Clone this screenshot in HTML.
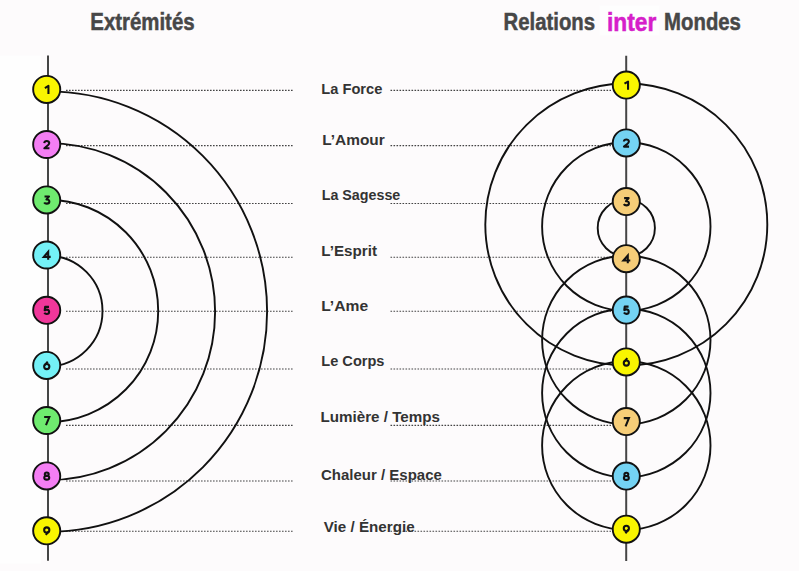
<!DOCTYPE html>
<html><head><meta charset="utf-8"><style>
html,body{margin:0;padding:0;background:#fdfbfc;}
body{width:799px;height:571px;overflow:hidden;position:relative;}
svg{position:absolute;left:0;top:0;display:block;}
.t{font-family:"Liberation Sans",sans-serif;font-weight:bold;}
</style></head><body>
<svg width="799" height="571" viewBox="0 0 799 571">
<rect x="0" y="0" width="799" height="571" fill="#fdfbfc"/>
<rect x="599.5" y="5.5" width="60" height="30" fill="#fefefe"/>
<rect x="0" y="55.7" width="41" height="507.9" fill="#fefefe"/>
<line x1="66" y1="90.4" x2="293" y2="90.4" stroke="#444" stroke-width="1.1" stroke-dasharray="1.6 1.4"/>
<line x1="390.5" y1="90.4" x2="611" y2="90.4" stroke="#444" stroke-width="1.1" stroke-dasharray="1.6 1.4"/>
<line x1="66" y1="145.6" x2="293" y2="145.6" stroke="#444" stroke-width="1.1" stroke-dasharray="1.6 1.4"/>
<line x1="390.5" y1="145.6" x2="611" y2="145.6" stroke="#444" stroke-width="1.1" stroke-dasharray="1.6 1.4"/>
<line x1="66" y1="203.5" x2="293" y2="203.5" stroke="#444" stroke-width="1.1" stroke-dasharray="1.6 1.4"/>
<line x1="390.5" y1="203.5" x2="611" y2="203.5" stroke="#444" stroke-width="1.1" stroke-dasharray="1.6 1.4"/>
<line x1="66" y1="257.3" x2="293" y2="257.3" stroke="#444" stroke-width="1.1" stroke-dasharray="1.6 1.4"/>
<line x1="390.5" y1="257.3" x2="611" y2="257.3" stroke="#444" stroke-width="1.1" stroke-dasharray="1.6 1.4"/>
<line x1="66" y1="311.3" x2="293" y2="311.3" stroke="#444" stroke-width="1.1" stroke-dasharray="1.6 1.4"/>
<line x1="390.5" y1="311.3" x2="611" y2="311.3" stroke="#444" stroke-width="1.1" stroke-dasharray="1.6 1.4"/>
<line x1="66" y1="369.0" x2="293" y2="369.0" stroke="#444" stroke-width="1.1" stroke-dasharray="1.6 1.4"/>
<line x1="390.5" y1="369.0" x2="611" y2="369.0" stroke="#444" stroke-width="1.1" stroke-dasharray="1.6 1.4"/>
<line x1="66" y1="425.4" x2="293" y2="425.4" stroke="#444" stroke-width="1.1" stroke-dasharray="1.6 1.4"/>
<line x1="390.5" y1="425.4" x2="611" y2="425.4" stroke="#444" stroke-width="1.1" stroke-dasharray="1.6 1.4"/>
<line x1="66" y1="481.0" x2="293" y2="481.0" stroke="#444" stroke-width="1.1" stroke-dasharray="1.6 1.4"/>
<line x1="390.5" y1="481.0" x2="611" y2="481.0" stroke="#444" stroke-width="1.1" stroke-dasharray="1.6 1.4"/>
<line x1="66" y1="531.2" x2="293" y2="531.2" stroke="#444" stroke-width="1.1" stroke-dasharray="1.6 1.4"/>
<line x1="390.5" y1="531.2" x2="611" y2="531.2" stroke="#444" stroke-width="1.1" stroke-dasharray="1.6 1.4"/>
<line x1="48" y1="55.6" x2="48" y2="560.8" stroke="#454545" stroke-width="2"/>
<line x1="626.2" y1="55.8" x2="626.2" y2="560.9" stroke="#454545" stroke-width="2"/>
<path d="M 47.5 91.40 A 219.6 220.2 0 0 1 47.5 531.80" fill="none" stroke="#111" stroke-width="1.9"/>
<path d="M 47.5 143.15 A 167.6 168.5 0 0 1 47.5 480.15" fill="none" stroke="#111" stroke-width="1.9"/>
<path d="M 47.5 199.70 A 110.7 111.2 0 0 1 47.5 422.10" fill="none" stroke="#111" stroke-width="1.9"/>
<path d="M 47.5 255.70 A 55.0 55.3 0 0 1 47.5 366.30" fill="none" stroke="#111" stroke-width="1.9"/>
<circle cx="626.3" cy="224.5" r="141.0" fill="none" stroke="#111" stroke-width="1.9"/>
<circle cx="626.3" cy="226.5" r="84.2" fill="none" stroke="#111" stroke-width="1.9"/>
<circle cx="626.3" cy="228.0" r="28.6" fill="none" stroke="#111" stroke-width="1.9"/>
<circle cx="626.3" cy="340.0" r="84.2" fill="none" stroke="#111" stroke-width="1.9"/>
<circle cx="626.3" cy="393.0" r="84.2" fill="none" stroke="#111" stroke-width="1.9"/>
<circle cx="626.3" cy="445.5" r="84.2" fill="none" stroke="#111" stroke-width="1.9"/>
<circle cx="46.7" cy="89.4" r="13.55" fill="#f9f500" stroke="#111" stroke-width="1.9"/><g transform="translate(46.75 89.55) scale(1.06)" fill="none" stroke="#111" stroke-width="1.95" stroke-linejoin="round"><path d="M -1.75 -1.45 L 1.6 -3.45 L 1.6 4.3" /></g>
<circle cx="46.7" cy="144.5" r="13.55" fill="#f47ef4" stroke="#111" stroke-width="1.9"/><g transform="translate(46.75 144.65) scale(1.06)" fill="none" stroke="#111" stroke-width="1.95" stroke-linejoin="round"><path d="M -2.35 -1.45 C -2.25 -2.75 -1.3 -3.4 0 -3.4 C 1.4 -3.4 2.35 -2.6 2.35 -1.5 C 2.35 -0.6 1.85 0 1.1 0.6 L -2.25 3.4 L 2.55 3.4" /></g>
<circle cx="46.7" cy="199.9" r="13.55" fill="#6feb6f" stroke="#111" stroke-width="1.9"/><g transform="translate(46.75 200.05) scale(1.06)" fill="none" stroke="#111" stroke-width="1.95" stroke-linejoin="round"><path d="M -2.1 -3.4 L 2.15 -3.4 L -0.35 -0.45 C 1.6 -0.7 2.45 0.35 2.45 1.35 C 2.45 2.7 1.4 3.4 0 3.4 C -1.1 3.4 -2.0 2.95 -2.45 2.25" /></g>
<circle cx="46.7" cy="255.0" r="13.55" fill="#74f1f7" stroke="#111" stroke-width="1.9"/><g transform="translate(46.75 255.15) scale(1.06)" fill="none" stroke="#111" stroke-width="1.95" stroke-linejoin="round"><path d="M 1.35 4.25 L 1.35 -3.15 L -2.75 1.6 L 3.7 1.6" stroke-linejoin="miter" /></g>
<circle cx="46.7" cy="310.3" r="13.55" fill="#f0379a" stroke="#111" stroke-width="1.9"/><g transform="translate(46.75 310.45) scale(1.06)" fill="none" stroke="#111" stroke-width="1.95" stroke-linejoin="round"><path d="M 2.1 -3.4 L -1.55 -3.4 L -1.95 -0.15 C -1.4 -0.55 -0.7 -0.8 0 -0.8 C 1.45 -0.8 2.25 0.2 2.25 1.3 C 2.25 2.6 1.3 3.4 0 3.4 C -1.1 3.4 -1.9 2.9 -2.3 2.2" /></g>
<circle cx="46.7" cy="365.4" r="13.55" fill="#74f1f7" stroke="#111" stroke-width="1.9"/><g transform="translate(46.75 365.55) scale(1.06)" fill="none" stroke="#111" stroke-width="1.95" stroke-linejoin="round"><circle cx="0" cy="0.95" r="2.45" /><path d="M -1.9 -0.4 L 0.9 -3.7" /></g>
<circle cx="46.7" cy="420.5" r="13.55" fill="#6feb6f" stroke="#111" stroke-width="1.9"/><g transform="translate(46.75 420.65) scale(1.06)" fill="none" stroke="#111" stroke-width="1.95" stroke-linejoin="round"><path d="M -2.45 -3.4 L 2.45 -3.4 L -0.75 4.3" stroke-linejoin="miter" /></g>
<circle cx="46.7" cy="475.9" r="13.55" fill="#f47ef4" stroke="#111" stroke-width="1.9"/><g transform="translate(46.75 476.05) scale(1.06)" fill="none" stroke="#111" stroke-width="1.95" stroke-linejoin="round"><ellipse cx="0" cy="-1.75" rx="1.85" ry="1.6" /><ellipse cx="0" cy="1.6" rx="2.35" ry="1.8" /></g>
<circle cx="46.7" cy="530.8" r="13.55" fill="#f9f500" stroke="#111" stroke-width="1.9"/><g transform="translate(46.75 530.95) scale(1.06)" fill="none" stroke="#111" stroke-width="1.95" stroke-linejoin="round"><circle cx="0" cy="-0.95" r="2.45" /><path d="M 1.9 0.4 L -0.9 3.7" /></g>
<circle cx="626.3" cy="85.1" r="13.55" fill="#f9f500" stroke="#111" stroke-width="1.9"/><g transform="translate(626.35 85.25) scale(1.06)" fill="none" stroke="#111" stroke-width="1.95" stroke-linejoin="round"><path d="M -1.75 -1.45 L 1.6 -3.45 L 1.6 4.3" /></g>
<circle cx="626.3" cy="142.9" r="13.55" fill="#74d3f3" stroke="#111" stroke-width="1.9"/><g transform="translate(626.35 143.05) scale(1.06)" fill="none" stroke="#111" stroke-width="1.95" stroke-linejoin="round"><path d="M -2.35 -1.45 C -2.25 -2.75 -1.3 -3.4 0 -3.4 C 1.4 -3.4 2.35 -2.6 2.35 -1.5 C 2.35 -0.6 1.85 0 1.1 0.6 L -2.25 3.4 L 2.55 3.4" /></g>
<circle cx="626.3" cy="201.6" r="13.55" fill="#f6cd78" stroke="#111" stroke-width="1.9"/><g transform="translate(626.35 201.75) scale(1.06)" fill="none" stroke="#111" stroke-width="1.95" stroke-linejoin="round"><path d="M -2.1 -3.4 L 2.15 -3.4 L -0.35 -0.45 C 1.6 -0.7 2.45 0.35 2.45 1.35 C 2.45 2.7 1.4 3.4 0 3.4 C -1.1 3.4 -2.0 2.95 -2.45 2.25" /></g>
<circle cx="626.3" cy="258.7" r="13.55" fill="#f6cd78" stroke="#111" stroke-width="1.9"/><g transform="translate(626.35 258.85) scale(1.06)" fill="none" stroke="#111" stroke-width="1.95" stroke-linejoin="round"><path d="M 1.35 4.25 L 1.35 -3.15 L -2.75 1.6 L 3.7 1.6" stroke-linejoin="miter" /></g>
<circle cx="626.3" cy="310.1" r="13.55" fill="#74d3f3" stroke="#111" stroke-width="1.9"/><g transform="translate(626.35 310.25) scale(1.06)" fill="none" stroke="#111" stroke-width="1.95" stroke-linejoin="round"><path d="M 2.1 -3.4 L -1.55 -3.4 L -1.95 -0.15 C -1.4 -0.55 -0.7 -0.8 0 -0.8 C 1.45 -0.8 2.25 0.2 2.25 1.3 C 2.25 2.6 1.3 3.4 0 3.4 C -1.1 3.4 -1.9 2.9 -2.3 2.2" /></g>
<circle cx="626.3" cy="361.9" r="13.55" fill="#f9f500" stroke="#111" stroke-width="1.9"/><g transform="translate(626.35 362.05) scale(1.06)" fill="none" stroke="#111" stroke-width="1.95" stroke-linejoin="round"><circle cx="0" cy="0.95" r="2.45" /><path d="M -1.9 -0.4 L 0.9 -3.7" /></g>
<circle cx="626.3" cy="421.6" r="13.55" fill="#f6cd78" stroke="#111" stroke-width="1.9"/><g transform="translate(626.35 421.75) scale(1.06)" fill="none" stroke="#111" stroke-width="1.95" stroke-linejoin="round"><path d="M -2.45 -3.4 L 2.45 -3.4 L -0.75 4.3" stroke-linejoin="miter" /></g>
<circle cx="626.3" cy="476.1" r="13.55" fill="#74d3f3" stroke="#111" stroke-width="1.9"/><g transform="translate(626.35 476.25) scale(1.06)" fill="none" stroke="#111" stroke-width="1.95" stroke-linejoin="round"><ellipse cx="0" cy="-1.75" rx="1.85" ry="1.6" /><ellipse cx="0" cy="1.6" rx="2.35" ry="1.8" /></g>
<circle cx="626.3" cy="529.2" r="13.55" fill="#f9f500" stroke="#111" stroke-width="1.9"/><g transform="translate(626.35 529.35) scale(1.06)" fill="none" stroke="#111" stroke-width="1.95" stroke-linejoin="round"><circle cx="0" cy="-0.95" r="2.45" /><path d="M 1.9 0.4 L -0.9 3.7" /></g>
<text class="t" x="0" y="0" font-size="14" fill="#333" transform="translate(321.30 93.5) scale(1.0468 1)">La Force</text>
<text class="t" x="0" y="0" font-size="14" fill="#333" transform="translate(322.21 144.5) scale(1.1022 1)">L’Amour</text>
<text class="t" x="0" y="0" font-size="14" fill="#333" transform="translate(321.65 199.7) scale(1.0218 1)">La Sagesse</text>
<text class="t" x="0" y="0" font-size="14" fill="#333" transform="translate(321.24 256.0) scale(1.0860 1)">L’Esprit</text>
<text class="t" x="0" y="0" font-size="14" fill="#333" transform="translate(321.17 310.8) scale(1.1188 1)">L’Ame</text>
<text class="t" x="0" y="0" font-size="14" fill="#333" transform="translate(321.31 366.0) scale(1.0418 1)">Le Corps</text>
<text class="t" x="0" y="0" font-size="14" fill="#333" transform="translate(320.49 422.1) scale(1.0853 1)">Lumière / Temps</text>
<text class="t" x="0" y="0" font-size="14" fill="#333" transform="translate(321.05 480.2) scale(1.0703 1)">Chaleur / Espace</text>
<text class="t" x="0" y="0" font-size="14" fill="#333" transform="translate(323.74 532.0) scale(1.0855 1)">Vie / Énergie</text>
<text class="t" x="0" y="0" font-size="24" fill="#474747" stroke="#474747" stroke-width="0.5" transform="translate(90.29 30.2) scale(0.8502 1)">Extrémités</text>
<text class="t" x="0" y="0" font-size="24" fill="#474747" stroke="#474747" stroke-width="0.5" transform="translate(503.60 30.2) scale(0.8463 1)">Relations</text>
<text class="t" x="0" y="0" font-size="25.5" fill="#d61fca" stroke="#d61fca" stroke-width="0.55" transform="translate(606.95 30.9) scale(0.8919 1)">inter</text>
<text class="t" x="0" y="0" font-size="24" fill="#474747" stroke="#474747" stroke-width="0.5" transform="translate(664.10 30.2) scale(0.8478 1)">Mondes</text>
</svg></body></html>
